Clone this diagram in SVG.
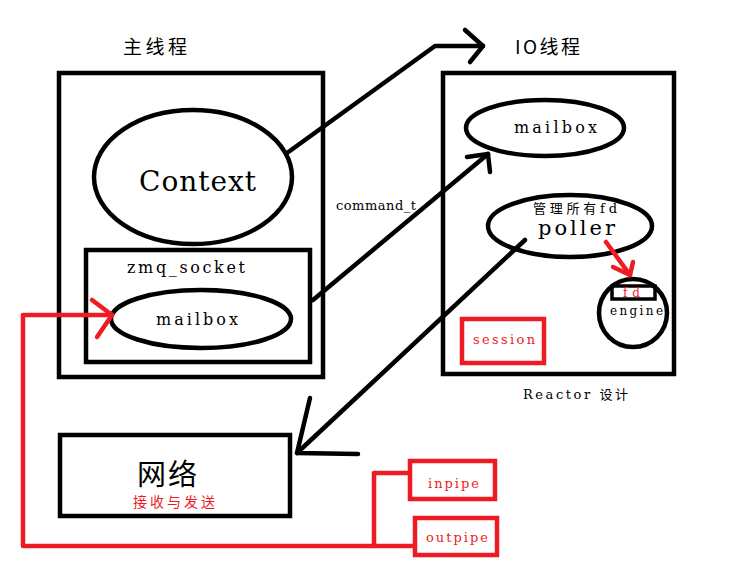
<svg xmlns="http://www.w3.org/2000/svg" width="739" height="574" viewBox="0 0 739 574">
<style>
.b{fill:none;stroke:#000;stroke-width:4.5}
.r{fill:none;stroke:#ed1c24;stroke-width:4.5}
.t{font-family:"DejaVu Serif","Noto Sans CJK SC",serif;fill:#000}
.c{font-family:"Noto Sans CJK SC",sans-serif;fill:#000}
.red{fill:#ed1c24}
</style>
<rect width="739" height="574" fill="#fff"/>
<g id="main-thread">
<rect class="b" x="59" y="73" width="264" height="304"/>
<text class="c" x="123" y="54" font-size="19" textLength="64">主线程</text>
</g>
<g id="context">
<ellipse class="b" cx="193" cy="177" rx="99" ry="67"/>
<text class="t" x="139" y="191" font-size="28" textLength="117">Context</text>
</g>
<g id="zmq-socket">
<rect class="b" x="86" y="250" width="224" height="112"/>
<text class="t" x="127" y="273" font-size="16" textLength="118">zmq_socket</text>
</g>
<g id="main-mailbox">
<ellipse class="b" cx="201" cy="319" rx="90" ry="29"/>
<text class="t" x="156" y="325" font-size="16" textLength="82">mailbox</text>
</g>
<g id="io-thread">
<rect class="b" x="443" y="73" width="231" height="301"/>
<text class="c" x="515" y="54" font-size="19" textLength="65">IO线程</text>
<text class="t" x="523" y="399" font-size="13" textLength="105">Reactor 设计</text>
</g>
<g id="io-mailbox">
<ellipse class="b" cx="545" cy="128" rx="79" ry="28"/>
<text class="t" x="514" y="133" font-size="16" textLength="83">mailbox</text>
</g>
<g id="poller">
<ellipse class="b" cx="570" cy="226" rx="82" ry="31"/>
<text class="t" x="533" y="213" font-size="13" textLength="84">管理所有fd</text>
<text class="t" x="538" y="235" font-size="21" textLength="77">poller</text>
</g>
<g id="engine">
<circle class="b" cx="633" cy="313" r="34"/>
<rect x="612" y="286" width="43" height="13" fill="none" stroke="#000" stroke-width="3.5"/>
<text class="t red" x="623" y="297" font-size="12" textLength="17">fd</text>
<text class="t" x="610" y="315" font-size="12" textLength="53">engine</text>
</g>
<g id="session">
<rect class="r" x="462" y="319" width="82" height="44"/>
<text class="t red" x="473" y="344" font-size="13" textLength="62">session</text>
</g>
<g id="network">
<rect class="b" x="60" y="435" width="230" height="81"/>
<text class="c" x="137" y="485" font-size="29" textLength="60">网络</text>
<text class="c red" x="133" y="507" font-size="14" textLength="82">接收与发送</text>
</g>
<g id="inpipe">
<rect class="r" x="410" y="461" width="85" height="38"/>
<text class="t red" x="428" y="488" font-size="13" textLength="51">inpipe</text>
</g>
<g id="outpipe">
<rect class="r" x="415" y="518" width="82" height="37"/>
<text class="t red" x="426" y="542" font-size="13" textLength="62">outpipe</text>
</g>
<g id="connectors" stroke-linecap="round" stroke-linejoin="round">
<polyline class="b" points="287,153 435,46 483,46"/>
<polyline class="b" points="465,30 483,46 470,62"/>
<line class="b" x1="313" y1="300" x2="488" y2="154"/>
<polyline class="b" points="467,157 488,154 490,172"/>
<line class="b" x1="525" y1="240" x2="297" y2="453"/>
<polyline class="b" points="310,398 297,453 358,454"/>
<line class="r" x1="606" y1="242" x2="630" y2="275"/>
<polyline class="r" points="613,267 630,275 633,262"/>
<polyline class="r" points="410,473 374,473 374,546"/>
<polyline class="r" points="415,546 23,546 23,315 112,315"/>
<polyline class="r" points="92,300 112,315 97,337"/>
</g>
<text class="t" x="336" y="210" font-size="13" textLength="80">command_t</text>
</svg>
